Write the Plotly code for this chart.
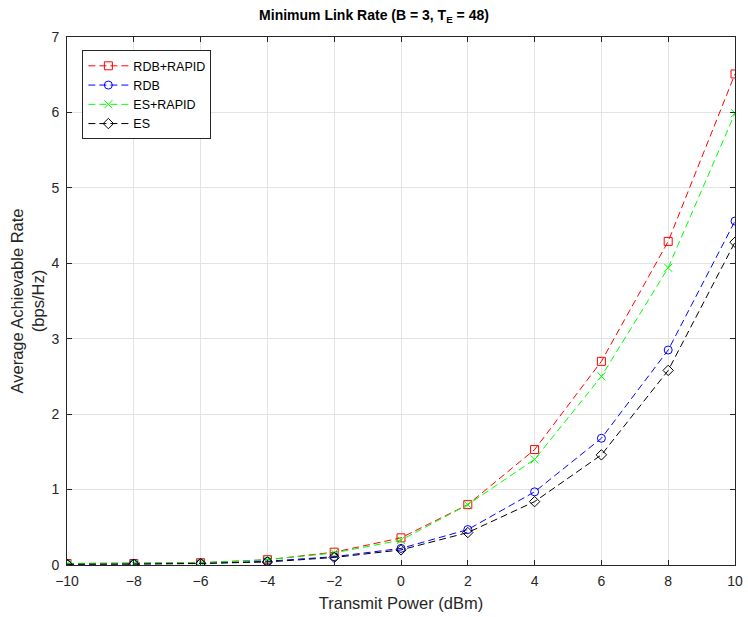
import plotly.graph_objects as go

x = [-10, -8, -6, -4, -2, 0, 2, 4, 6, 8, 10]
rdb_rapid = [0.02, 0.02, 0.03, 0.07, 0.17, 0.36, 0.80, 1.53, 2.70, 4.29, 6.51]
rdb = [0.01, 0.02, 0.02, 0.05, 0.11, 0.22, 0.47, 0.97, 1.68, 2.85, 4.56]
es_rapid = [0.02, 0.02, 0.03, 0.07, 0.16, 0.33, 0.80, 1.40, 2.50, 3.94, 5.99]
es = [0.01, 0.01, 0.02, 0.04, 0.10, 0.20, 0.43, 0.84, 1.46, 2.58, 4.28]

series = [
    ("RDB+RAPID", rdb_rapid, "#ff0000", "square-open"),
    ("RDB", rdb, "#0000ff", "circle-open"),
    ("ES+RAPID", es_rapid, "#00ff00", "x-thin-open"),
    ("ES", es, "#000000", "diamond-open"),
]

fig = go.Figure()
for name, y, c, sym in series:
    fig.add_trace(go.Scatter(
        x=x, y=y, name=name, mode="lines+markers",
        line=dict(color=c, width=1, dash="7px,4px"),
        marker=dict(symbol=sym, size=8, color=c, line=dict(color=c, width=1)),
    ))

axis_common = dict(
    showline=True, linecolor="#262626", linewidth=1, mirror="ticks",
    ticks="inside", ticklen=5, tickcolor="#262626",
    showgrid=True, gridcolor="#e3e3e3", gridwidth=1, zeroline=False,
    automargin=False,
    tickfont=dict(family="Liberation Sans, Arial", size=14, color="#262626"),
)

fig.update_layout(
    width=748, height=617,
    paper_bgcolor="white", plot_bgcolor="white",
    margin=dict(l=67, r=13, t=37, b=52),
    title=dict(text="<b>Minimum Link Rate (B = 3, T<sub>E</sub> = 48)</b>",
               x=0.5, xanchor="center", y=0.975, yanchor="middle",
               font=dict(family="Liberation Sans, Arial", size=14, color="#000000")),
    xaxis=dict(range=[-10, 10], tickmode="array", tickvals=x, ticklabelstandoff=3,
               title=dict(text="Transmit Power (dBm)", standoff=9,
                          font=dict(family="Liberation Sans, Arial", size=16.5, color="#262626")),
               **axis_common),
    yaxis=dict(range=[0, 7], tickmode="array", tickvals=[0, 1, 2, 3, 4, 5, 6, 7],
               ticklabelstandoff=4,
               title=dict(text="Average Achievable Rate<br>(bps/Hz)", standoff=2,
                          font=dict(family="Liberation Sans, Arial", size=16.5, color="#262626")),
               **axis_common),
    legend=dict(x=0.023, y=0.975, xanchor="left", yanchor="top",
                bgcolor="white", bordercolor="#262626", borderwidth=1,
                font=dict(family="Liberation Sans, Arial", size=12.5, color="#000000"),
                tracegroupgap=0, itemwidth=40, entrywidth=106),
    showlegend=True,
)

fig.write_html("out.html", config={"displayModeBar": False},
               post_script="document.body.style.margin='0';")
